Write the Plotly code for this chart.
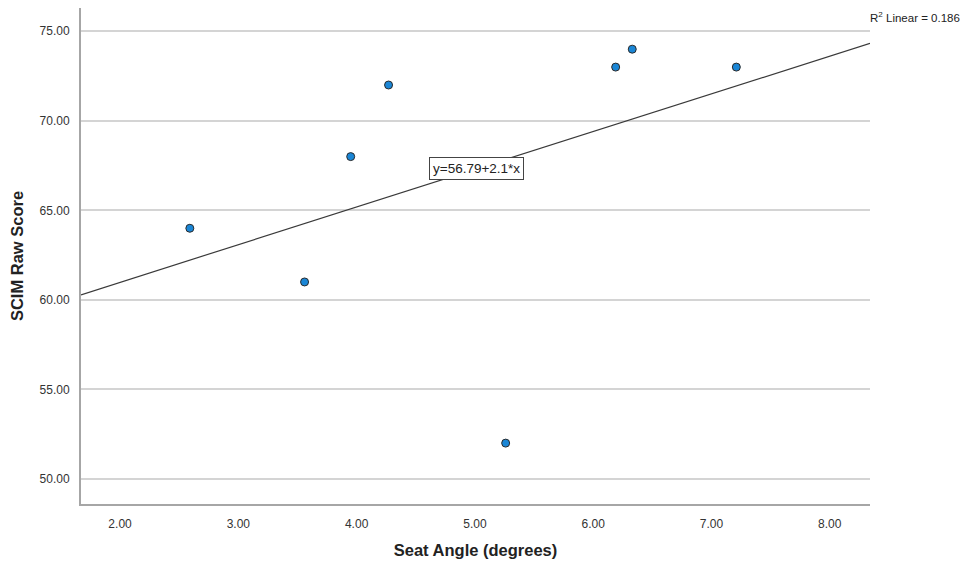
import numpy as np
import plotly.graph_objects as go

# Data
seat_angle = [2.59, 3.56, 3.95, 4.27, 5.26, 6.19, 6.33, 7.21]
scim_score = [64, 61, 68, 72, 52, 73, 74, 73]
x_ticks = [2, 3, 4, 5, 6, 7, 8]
y_ticks = [50, 55, 60, 65, 70, 75]
equation_label = "y=56.79+2.1*x"
r2_label = "R<sup>2</sup> Linear = 0.186"

x_range = [1.67, 8.34]
y_range = [48.6, 76.3]

slope, intercept = np.polyfit(seat_angle, scim_score, 1)
line_x = np.array(x_range)
line_y = intercept + slope * line_x

font = "Liberation Sans, Arial, sans-serif"

fig = go.Figure()
fig.add_trace(go.Scatter(
    x=line_x, y=line_y, mode="lines",
    line=dict(color="#3a3a3a", width=1.2),
    hoverinfo="skip", showlegend=False,
))
fig.add_trace(go.Scatter(
    x=seat_angle, y=scim_score, mode="markers",
    marker=dict(size=8, color="#1a86d6", line=dict(color="#2b2b2b", width=1)),
    showlegend=False,
))

fig.add_annotation(
    x=5.01, y=intercept + slope * 5.01, xref="x", yref="y",
    text=equation_label, showarrow=False,
    font=dict(family=font, size=13.5, color="#222"),
    bgcolor="white", bordercolor="#444", borderwidth=1, borderpad=3,
)
fig.add_annotation(
    x=1.0, y=1.0, xref="paper", yref="paper", xanchor="left", yanchor="top",
    xshift=-2, yshift=0,
    text=r2_label, showarrow=False,
    font=dict(family=font, size=11.5, color="#222"),
)

fig.update_layout(
    width=963, height=556,
    margin=dict(l=73, r=101, t=0, b=60),
    paper_bgcolor="white", plot_bgcolor="white",
    font=dict(family=font, size=12, color="#333"),
)
fig.update_xaxes(
    range=x_range, tickvals=x_ticks, ticktext=[f"{v:.2f}" for v in x_ticks],
    showgrid=False, zeroline=False,
    showline=True, linecolor="#a6a6a6", linewidth=2,
    ticks="", ticklabelstandoff=8,
    title=dict(text="<b>Seat Angle (degrees)</b>", font=dict(family=font, size=16.5, color="#222"), standoff=14),
)
fig.update_yaxes(
    range=y_range, tickvals=y_ticks, ticktext=[f"{v:.2f}" for v in y_ticks],
    showgrid=True, gridcolor="#d4d4d4", gridwidth=1.5, zeroline=False,
    showline=True, linecolor="#a6a6a6", linewidth=2,
    ticks="", ticklabelstandoff=7,
    title=dict(text="<b>SCIM Raw Score</b>", font=dict(family=font, size=16.5, color="#222"), standoff=13),
)

fig.write_html("out.html")
